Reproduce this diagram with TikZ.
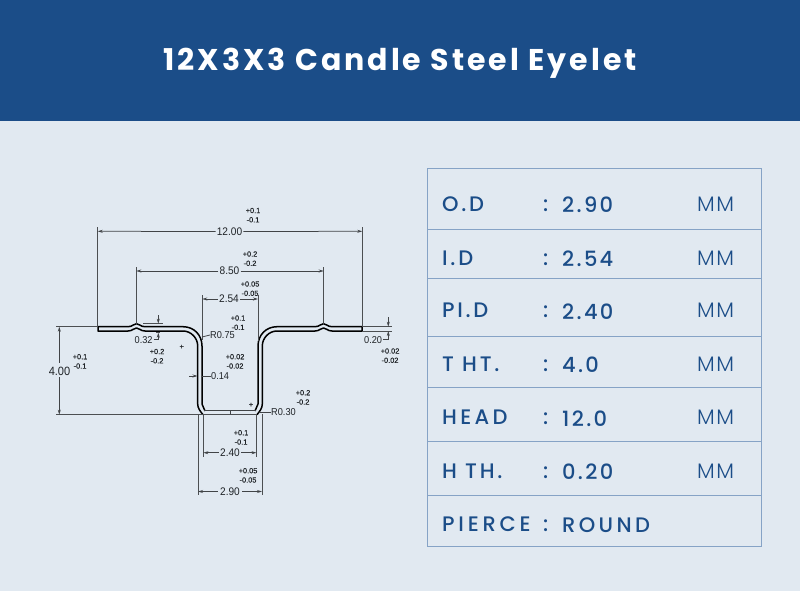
\documentclass[tikz,border=0pt]{standalone}
\usepackage{fontspec}
\setmainfont{Poppins}
\newfontfamily\dimfont[FakeStretch=0.92]{Liberation Sans}
\newfontfamily\tolfont[FakeBold=0.1]{Liberation Sans}
\newfontfamily\titlefont[LetterSpace=10,UprightFont=* Bold]{Poppins}
\newfontfamily\labelfont[LetterSpace=13,UprightFont=* Medium]{Poppins}
\newfontfamily\valuefont[LetterSpace=11,UprightFont=* Medium]{Poppins}
\newfontfamily\wordfont[LetterSpace=16,UprightFont=* Medium]{Poppins}
\newfontfamily\widefont[LetterSpace=18,UprightFont=* Medium]{Poppins}
\newfontfamily\unitfont[LetterSpace=7,UprightFont=* Light]{Poppins}
\usetikzlibrary{arrows.meta}
\definecolor{hdr}{HTML}{1B4D88}
\definecolor{bg}{HTML}{E1E9F1}
\definecolor{rule}{HTML}{86A3C6}
\definecolor{ink}{HTML}{1F2327}
\tikzset{
  dimtext/.style={font=\dimfont\fontsize{11}{13}\selectfont,text=ink,inner sep=0pt},
  bigdimtext/.style={font=\dimfont\fontsize{12}{14}\selectfont,text=ink,inner sep=0pt},
  localtext/.style={font=\dimfont\fontsize{10}{12}\selectfont,text=ink,inner sep=0pt},
  toltext/.style={font=\tolfont\fontsize{7.4}{9}\selectfont,text=ink,inner sep=0pt},
  thin line/.style={draw=ink!85,line width=0.75pt},
  ext line/.style={draw=ink!80,line width=0.9pt},
  dimarrow/.style={thin line,-{Stealth[length=5pt,width=3pt]}},
  profile/.style={draw=black,line width=1.5pt,line join=round},
  rowlabel/.style={font=\labelfont\fontsize{21}{24}\selectfont,text=hdr,inner sep=0pt,anchor=base west},
  rowvalue/.style={font=\valuefont\fontsize{21}{24}\selectfont,text=hdr,inner sep=0pt,anchor=base west},
  rowword/.style={font=\wordfont\fontsize{21}{24}\selectfont,text=hdr,inner sep=0pt,anchor=base west},
  unitlabel/.style={font=\unitfont\fontsize{21}{24}\selectfont,text=hdr,inner sep=0pt,anchor=base west},
  tablerule/.style={draw=rule,line width=0.9pt}
}
\begin{document}
\begin{tikzpicture}[x=1pt,y=-1pt]
\useasboundingbox (0,0) rectangle (800,591);
\fill[bg] (0,0) rectangle (800,591);
\fill[hdr] (0,0) rectangle (800,121);
\node[font=\titlefont\fontsize{30}{34}\selectfont,text=white,inner sep=0pt,anchor=base] (title) at (400,70.7) {12X3X3 Candle Steel Eyelet};

% table
\draw[tablerule] (427,168) rectangle (761,546);
\foreach \y in {229.5,278.5,336.5,387,441.5,495.5} \draw[tablerule] (427,\y) -- (761,\y);
\foreach \n/\y/\yv/\a/\b in {a/211.7/212.7/O.D/2.90,b/265/266/I.D/2.54,c/317.7/319/PI.D/2.40,d/371.7/372.7/T HT./4.0,e/424.7/426/\wordfont HEAD/12.0,f/478.3/479.3/H TH./0.20}{
  \node[rowlabel] (lab\n) at (442,\y) {\a};
  \node[rowlabel] (col\n) at (543,\y) {:};
  \node[rowvalue] (val\n) at (562,\yv) {\b};
  \node[unitlabel] (unit\n) at (697,\y) {MM};
}
\node[rowlabel] (labg) at (442,531) {\widefont PIERCE};
\node[rowlabel] (colg) at (543,531) {:};
\node[rowword] (valg) at (562,532.7) {ROUND};

% profile, outer and inner faces
\draw[profile] (98,326.7) -- (128,326.7) .. controls (133,326.7) and (133,323.7) .. (136.5,323.7) .. controls (140,323.7) and (140,326.7) .. (145,326.7) -- (183,326.7) .. controls (194,326.7) and (202,335) .. (202,346) -- (202,404) -- (205,411);
\draw[profile] (98,326.7) -- (98,331) -- (128,331) .. controls (133,331) and (133,328) .. (136.5,328) .. controls (140,328) and (140,331) .. (145,331) -- (183,331) .. controls (191,331) and (197.7,338) .. (197.7,346) -- (197.7,404) .. controls (197.7,408) and (200,411) .. (203,414.7);
\draw[profile] (362,326.7) -- (332,326.7) .. controls (327,326.7) and (327,323.7) .. (323.5,323.7) .. controls (320,323.7) and (320,326.7) .. (315,326.7) -- (277,326.7) .. controls (266,326.7) and (258,335) .. (258,346) -- (258,404) -- (255,411);
\draw[profile] (362,326.7) -- (362,331) -- (332,331) .. controls (327,331) and (327,328) .. (323.5,328) .. controls (320,328) and (320,331) .. (315,331) -- (277,331) .. controls (269,331) and (262.3,338) .. (262.3,346) -- (262.3,404) .. controls (262.3,408) and (260,411) .. (257,414.7);
\draw[thin line] (204,410.7) -- (256,410.7);
\draw[thin line] (230,410.7) -- (230,414.7);

% extension lines
\draw[ext line] (97.7,227) -- (97.7,326);
\draw[ext line] (362.3,227) -- (362.3,326);
\draw[ext line] (136.3,267) -- (136.3,324);
\draw[ext line] (323.7,267) -- (323.7,324);
\draw[ext line] (202.3,295) -- (202.3,340);
\draw[ext line] (258,295) -- (258,341);
\draw[ext line] (56,326.7) -- (98,326.7);
\draw[ext line] (56,414.7) -- (257,414.7);
\draw[ext line] (203.3,414.7) -- (203.3,457);
\draw[ext line] (256.5,414.7) -- (256.5,457);
\draw[ext line] (198,414) -- (198,495);
\draw[ext line] (262,414) -- (262,495);
\draw[ext line] (143,323.7) -- (163,323.7);
\draw[ext line] (156,332.7) -- (160,332.7);
\draw[ext line] (362,326.7) -- (392,326.7);
\draw[ext line] (362,331) -- (392,331);

% horizontal dimensions
\node[dimtext] (d1200) at (229.5,231.5) {12.00};
\draw[dimarrow] (d1200.west) ++(-1,0) -- (97.7,231.3);
\draw[dimarrow] (d1200.east) ++(1,0) -- (362.3,231.3);
\node[dimtext] (d850) at (229.5,271) {8.50};
\draw[dimarrow] (d850.west) ++(-1,0) -- (136.3,271);
\draw[dimarrow] (d850.east) ++(1,0) -- (323.7,271);
\node[dimtext] (d254) at (229,299) {2.54};
\draw[dimarrow] (d254.west) ++(-1,0) -- (202.3,299);
\draw[dimarrow] (d254.east) ++(1,0) -- (258,299);
\node[dimtext] (d240) at (230,452.7) {2.40};
\draw[dimarrow] (d240.west) ++(-1,0) -- (203.3,452.7);
\draw[dimarrow] (d240.east) ++(1,0) -- (256.5,452.7);
\node[dimtext] (d290) at (230,491.5) {2.90};
\draw[dimarrow] (d290.west) ++(-2,0) -- (198,491.5);
\draw[dimarrow] (d290.east) ++(2,0) -- (262,491.5);

% 4.00
\node[bigdimtext] (d400) at (59.5,371) {4.00};
\draw[dimarrow] (d400.north -| 59.3,0) ++(0,-4) -- (59.3,326.7);
\draw[dimarrow] (d400.south -| 59.3,0) ++(0,2) -- (59.3,414.7);

% local labels
\node[localtext,anchor=west] (r075) at (210,335) {R0.75};
\coordinate (r075p) at (202,337);
\draw[thin line] (r075p) -- (r075.west);
\node[localtext,anchor=west] (r030) at (271,412) {R0.30};
\coordinate (r030p) at (260,412);
\draw[thin line] (r030p) -- (r030.west);
\node[localtext,anchor=west] (d014) at (211,376) {0.14};
\coordinate (w1) at (202,376);
\coordinate (w2) at (189,376);
\coordinate (w3) at (197.5,376);
\draw[thin line] (w1) -- (d014.west);
\draw[dimarrow] (w2) -- (w3);
\node[localtext,anchor=west] (d032) at (134.5,340) {0.32};
\coordinate (a1) at (158.3,315);
\coordinate (a2) at (158.3,323.7);
\coordinate (a3) at (158.3,332.7);
\draw[dimarrow] (a1) -- (a2);
\draw[dimarrow] (d032.east) ++(1,-1) -| (a3);
\node[localtext,anchor=west] (d020) at (364,340) {0.20};
\coordinate (b1) at (388.3,317);
\coordinate (b2) at (388.3,326.7);
\coordinate (b3) at (388.3,331);
\draw[dimarrow] (b1) -- (b2);
\draw[dimarrow] (d020.east) ++(1,-1) -| (b3);

% tolerances
\foreach \n/\x/\yy/\u/\l in {ta/253/210.5/+0.1/-0.1,tb/250/254/+0.2/-0.2,tc/250/284/+0.05/-0.05,td/238/318/+0.1/-0.1,te/157/351.5/+0.2/-0.2,tf/80/356.7/+0.1/-0.1,tg/235/356.7/+0.02/-0.02,th/303/392.7/+0.2/-0.2,ti/241/432.7/+0.1/-0.1,tj/248/470.7/+0.05/-0.05,tk/390/351/+0.02/-0.02}{
  \node[toltext] (\n u) at (\x,\yy) {\u};
  \node[toltext] (\n l) at (\x,\yy+9.3) {\l};
}
\node[toltext] (plus1) at (181.7,347) {+};
\node[toltext] (plus2) at (251,405) {+};
\end{tikzpicture}
\end{document}
